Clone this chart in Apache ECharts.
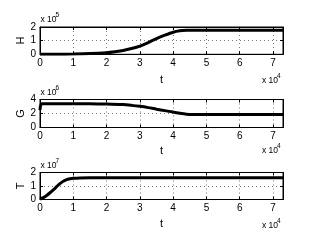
<!DOCTYPE html>
<html><head><meta charset="utf-8">
<script src="https://cdn.jsdelivr.net/npm/echarts@6/dist/echarts.min.js"></script>
<style>html,body{margin:0;padding:0;background:#fff}#c{width:313px;height:242px}</style>
</head><body><div id="c"></div>
<script>
// t in units of 1e4
const tH = [0, 0.5, 1, 1.5, 2, 2.25, 2.5, 2.75, 3, 3.25, 3.5, 3.75, 4, 4.2, 4.4, 4.6, 5, 6, 7, 7.3];
const H  = [0, 0.005, 0.02, 0.05, 0.12, 0.19, 0.28, 0.42, 0.6, 0.86, 1.15, 1.4, 1.62, 1.72, 1.76, 1.77, 1.77, 1.77, 1.77, 1.77]; // x1e5
const tG = [0, 0.05, 0.5, 1, 1.5, 2, 2.5, 2.75, 3, 3.25, 3.5, 3.75, 4, 4.2, 4.4, 4.6, 5, 6, 7, 7.3];
const G  = [2.5, 3.4, 3.4, 3.4, 3.38, 3.35, 3.27, 3.16, 3.02, 2.84, 2.62, 2.41, 2.2, 2.03, 1.9, 1.86, 1.85, 1.85, 1.85, 1.85]; // x1e6
const tT = [0, 0.1, 0.2, 0.3, 0.4, 0.5, 0.6, 0.7, 0.8, 0.9, 1, 1.2, 1.5, 2, 3, 7.3];
const T  = [0.03, 0.14, 0.3, 0.5, 0.72, 0.95, 1.18, 1.35, 1.47, 1.53, 1.57, 1.6, 1.61, 1.61, 1.61, 1.61]; // x1e7
const yNames = ['H', 'G', 'T'];
const yMax = [2, 4, 2];
const yStep = [1, 2, 1];
const yExp = ['5', '6', '7'];
const xMax = 7.3;
const xExp = '4';

const tops = [27, 99.5, 172.5];
const heights = [27.3, 28, 27];
const FONT = 'Liberation Sans, Arial, sans-serif';
const seriesData = [[tH, H], [tG, G], [tT, T]];

const grids = [], xAxes = [], yAxes = [], series = [], graphics = [];
for (let i = 0; i < 3; i++) {
  grids.push({left: 40, right: 30, top: tops[i], height: heights[i], show: true, borderColor: '#000', borderWidth: 1, backgroundColor: '#fff'});
  const xBase = {gridIndex: i, type: 'value', min: 0, max: xMax, interval: 1,
    axisLine: {show: true, onZero: false, lineStyle: {color: '#000', width: 1}},
    axisTick: {show: true, inside: true, length: 3, lineStyle: {color: '#000'}}};
  xAxes.push(Object.assign({}, xBase, {position: 'bottom',
    name: 't', nameLocation: 'middle', nameGap: [20, 18, 19][i],
    nameTextStyle: {fontFamily: FONT, fontSize: 11, color: '#000'},
    axisLabel: {show: true, showMaxLabel: false, margin: 4, fontFamily: FONT, fontSize: 10, color: '#000'},
    splitLine: {show: true, lineStyle: {type: [1, 3], color: '#777', width: 1}}}));
  xAxes.push(Object.assign({}, xBase, {position: 'top', axisLabel: {show: false}, splitLine: {show: false}}));
  const yBase = {gridIndex: i, type: 'value', min: 0, max: yMax[i], interval: yStep[i],
    axisLine: {show: true, onZero: false, lineStyle: {color: '#000', width: 1}},
    axisTick: {show: true, inside: true, length: 3, lineStyle: {color: '#000'}}};
  yAxes.push(Object.assign({}, yBase, {position: 'left',
    axisLabel: {show: true, margin: 4, fontFamily: FONT, fontSize: 10, color: '#000'},
    splitLine: {show: true, lineStyle: {type: [1, 3], color: '#777', width: 1}}}));
  yAxes.push(Object.assign({}, yBase, {position: 'right', axisLabel: {show: false}, splitLine: {show: false}}));
  const [xs, ys] = seriesData[i];
  series.push({type: 'line', xAxisIndex: 2 * i, yAxisIndex: 2 * i, data: xs.map((x, k) => [x, ys[k]]),
    showSymbol: false, smooth: 0.25, lineStyle: {color: '#000', width: 3}, clip: true, silent: true});
  // rotated y name
  graphics.push({type: 'text', x: 20.5, y: tops[i] + heights[i] / 2, rotation: Math.PI / 2,
    style: {text: yNames[i], font: '11px ' + FONT, fill: '#000', align: 'center', verticalAlign: 'middle'}});
  // exponent labels
  const ty = tops[i] - 7;
  graphics.push({type: 'text', x: 40.5, y: ty, style: {text: 'x 10', font: '8.5px ' + FONT, fill: '#000', verticalAlign: 'middle'}});
  graphics.push({type: 'text', x: 55.5, y: ty - 4.5, style: {text: yExp[i], font: '6.5px ' + FONT, fill: '#000', verticalAlign: 'middle'}});
  const by = tops[i] + heights[i] + [26, 23.5, 26][i];
  graphics.push({type: 'text', x: 262, y: by, style: {text: 'x 10', font: '8.5px ' + FONT, fill: '#000', verticalAlign: 'middle'}});
  graphics.push({type: 'text', x: 277, y: by - 4.5, style: {text: xExp, font: '6.5px ' + FONT, fill: '#000', verticalAlign: 'middle'}});
}

const chart = echarts.init(document.getElementById('c'), null, {renderer: 'canvas'});
chart.setOption({animation: false, backgroundColor: '#fff', grid: grids, xAxis: xAxes, yAxis: yAxes, series: series, graphic: graphics});
</script></body></html>
